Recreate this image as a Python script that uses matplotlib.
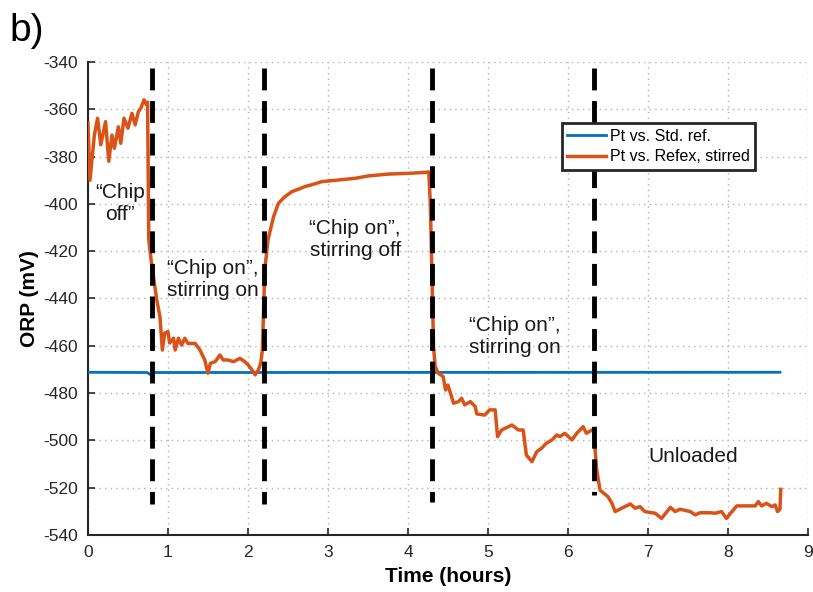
import matplotlib
matplotlib.use("Agg")
import matplotlib.pyplot as plt

plt.rcParams['font.family'] = ['Liberation Sans', 'DejaVu Sans']
plt.rcParams['axes.unicode_minus'] = False

# Pt vs. Refex, stirred (orange trace)
time_refex = [0, .025, .08, .12, .16, .22, .26, .30, .33, .38,
              .41, .45, .50, .55, .59, .63, .66, .70, .73, .745,
              .76, .79, .82, .86, .90, .93, .96, 1.00, 1.02, 1.07,
              1.09, 1.13, 1.17, 1.21, 1.25, 1.34, 1.40, 1.46, 1.50, 1.53,
              1.59, 1.65, 1.69, 1.75, 1.82, 1.90, 1.96, 2.00, 2.05, 2.09,
              2.13, 2.16, 2.18, 2.20, 2.21, 2.25, 2.32, 2.38, 2.46, 2.55,
              2.63, 2.71, 2.84, 2.92, 3.13, 3.34, 3.50, 3.75, 4.00, 4.21,
              4.26, 4.28, 4.30, 4.32, 4.34, 4.38, 4.44, 4.47, 4.50, 4.57,
              4.63, 4.67, 4.71, 4.78, 4.84, 4.86, 4.96, 5.02, 5.09, 5.12,
              5.17, 5.30, 5.38, 5.44, 5.48, 5.55, 5.61, 5.67, 5.73, 5.80,
              5.86, 5.90, 5.96, 6.05, 6.11, 6.19, 6.23, 6.30, 6.32, 6.36,
              6.40, 6.46, 6.50, 6.55, 6.59, 6.67, 6.78, 6.84, 6.90, 6.96,
              7.09, 7.17, 7.28, 7.34, 7.40, 7.53, 7.59, 7.65, 7.78, 7.84,
              7.92, 7.98, 8.05, 8.11, 8.34, 8.38, 8.42, 8.48, 8.55, 8.59,
              8.62, 8.65, 8.66]
orp_refex = [-365.8, -390, -370.9, -363.8, -375, -365.2, -382, -370.9, -376.5, -367.4,
             -374.4, -363.8, -368, -361.7, -366.6, -361, -359.6, -356, -358, -357,
             -415, -424, -431, -440.6, -447.7, -461.8, -454.6, -454, -458.8, -456.8,
             -461.8, -456.8, -459.7, -456.8, -459, -459, -461.8, -466, -471.6, -467.4,
             -466.7, -463.9, -466, -466, -466.7, -465.3, -466.7, -468, -470.2, -472.3,
             -470.2, -467.3, -462, -440, -428, -415.3, -405.4, -399.8, -397, -394.8,
             -393.8, -392.7, -391.5, -390.6, -389.9, -389.2, -388.2, -387.4, -387.1, -386.7,
             -386.5, -400, -430, -460.4, -468.8, -471.6, -473, -478.7, -476.6, -484.3,
             -483.6, -482.2, -485, -483.6, -485.7, -488.8, -489.3, -487.1, -487.1, -498.4,
             -495.6, -493.5, -495.6, -495.6, -506.2, -509, -504.8, -503.3, -501.2, -499.8,
             -497.7, -498.4, -497, -499.8, -497, -494.2, -497, -495.6, -496, -512.5,
             -521, -522.7, -523.8, -526.6, -530.1, -528.7, -526.9, -528.7, -528, -530.1,
             -530.8, -533, -528.3, -530.1, -529.1, -530.1, -531.5, -530.6, -530.6, -530.8,
             -530.1, -533, -530.1, -527.7, -527.7, -525.9, -527.7, -526.6, -528, -527.3,
             -530.1, -529.1, -520.7]

# Pt vs. Std. ref. (blue trace)
time_std = [0, 0.74, 0.78, 0.82, 8.65]
orp_std = [-471.2, -471.3, -472.2, -471.3, -471.2]

# event markers (hours) and where the dashed lines end (mV)
event_times = [0.8, 2.2, 4.3, 6.33]
event_bottoms = [-527, -527, -526, -523]
event_top = -342.5

labels = ["\u201cChip\noff\u201d", "\u201cChip on\u201d,\nstirring on",
          "\u201cChip on\u201d,\nstirring off", "\u201cChip on\u201d,\nstirring on",
          "Unloaded"]
label_t = [0.4, 1.56, 3.34, 5.34, 7.56]
label_v = [-400, -432, -415, -456, -507]

fig = plt.figure(figsize=(8.13, 5.92), dpi=100)
ax = fig.add_axes([0.1082, 0.0963, 0.8856, 0.799])

ax.plot(time_std, orp_std, color='#0072BD', lw=2, label='Pt vs. Std. ref.', zorder=3)
ax.plot(time_refex, orp_refex, color='#D95319', lw=2.5, label='Pt vs. Refex, stirred', zorder=4)

for t, vb in zip(event_times, event_bottoms):
    ax.plot([t, t], [event_top, vb], color='black', lw=3.5,
            dashes=(4.5, 2.2), zorder=5)

for s, t, v in zip(labels, label_t, label_v):
    ax.text(t, v, s, ha='center', va='center', fontsize=15,
            linespacing=1.2, color='#1a1a1a', zorder=6)

ax.set_xlim(0, 9)
ax.set_ylim(-540, -340)
ax.set_xticks(range(0, 10))
ax.set_yticks(range(-540, -339, 20))
ax.grid(True, linestyle=(0, (1, 3)), color='#b0b0b0', lw=1)
for side in ['top', 'right']:
    ax.spines[side].set_visible(False)
for side in ['left', 'bottom']:
    ax.spines[side].set_color('#262626')
    ax.spines[side].set_linewidth(1.5)
ax.tick_params(direction='in', length=5, width=1.2, colors='#262626',
               labelsize=12.5, labelcolor='#262626')
ax.tick_params(axis='y', pad=7)
ax.tick_params(axis='x', pad=7)
ax.set_xlabel('Time (hours)', fontsize=15, fontweight='bold', labelpad=5)
ax.set_ylabel('ORP (mV)', fontsize=15, fontweight='bold', labelpad=3)

leg = ax.legend(loc='upper left', bbox_to_anchor=(0.658, 0.871), fontsize=11.5,
                frameon=True, fancybox=False, edgecolor='#262626',
                handlelength=2.4, borderpad=0.35, labelspacing=0.35,
                handletextpad=0.25, borderaxespad=0)
leg.get_frame().set_linewidth(2)
leg.get_frame().set_alpha(1)

fig.text(0.012, 0.948, 'b)', fontsize=28, ha='left', va='center')

fig.savefig('out.png', dpi=100)
